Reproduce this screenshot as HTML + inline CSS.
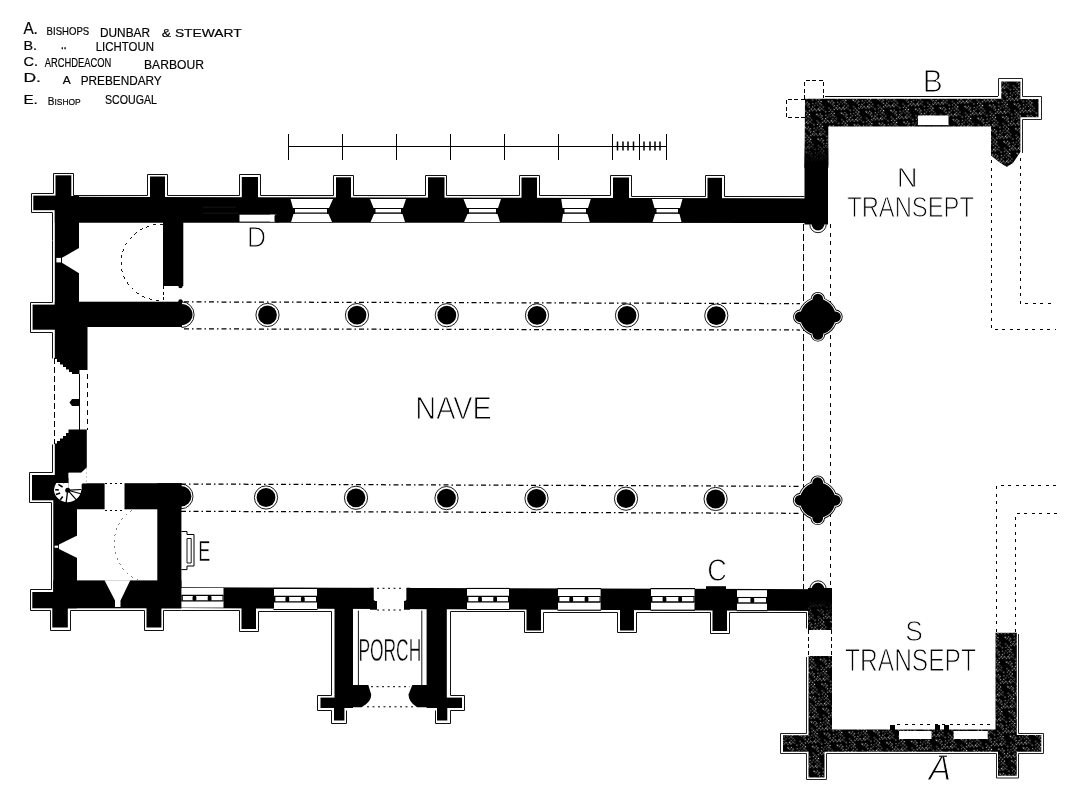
<!DOCTYPE html>
<html><head><meta charset="utf-8"><title>Plan of Cathedral</title>
<style>
html,body{margin:0;padding:0;background:#fff;}
svg{display:block;filter:grayscale(1);}
text{font-family:"Liberation Sans",sans-serif;}
</style></head>
<body>
<svg width="1079" height="785" viewBox="0 0 1079 785">
<defs>
<pattern id="hatch" width="17.5" height="17.5" patternUnits="userSpaceOnUse" patternTransform="rotate(42)">
<rect width="17.5" height="17.5" fill="#000"/>
<rect x="0.28" y="0.48" width="1.2" height="1.2" fill="#fff" fill-opacity="0.6"/>
<rect x="0.36" y="2.95" width="1.2" height="1.2" fill="#fff" fill-opacity="0.6"/>
<rect x="0.10" y="5.45" width="1.0" height="1.0" fill="#fff" fill-opacity="1.0"/>
<rect x="0.53" y="10.38" width="1.2" height="1.2" fill="#fff" fill-opacity="1.0"/>
<rect x="2.65" y="2.67" width="0.9" height="0.9" fill="#fff" fill-opacity="0.6"/>
<rect x="2.81" y="7.87" width="1.0" height="1.0" fill="#fff" fill-opacity="0.8"/>
<rect x="2.78" y="10.19" width="0.9" height="0.9" fill="#fff" fill-opacity="1.0"/>
<rect x="5.31" y="2.56" width="1.0" height="1.0" fill="#fff" fill-opacity="1.0"/>
<rect x="5.24" y="8.03" width="1.1" height="1.1" fill="#fff" fill-opacity="1.0"/>
<rect x="5.51" y="10.08" width="1.0" height="1.0" fill="#fff" fill-opacity="0.8"/>
<rect x="5.33" y="15.15" width="0.9" height="0.9" fill="#fff" fill-opacity="1.0"/>
<rect x="7.71" y="0.06" width="0.9" height="0.9" fill="#fff" fill-opacity="0.8"/>
<rect x="7.90" y="5.06" width="1.0" height="1.0" fill="#fff" fill-opacity="0.8"/>
<rect x="7.77" y="10.15" width="1.0" height="1.0" fill="#fff" fill-opacity="1.0"/>
<rect x="7.61" y="15.26" width="1.2" height="1.2" fill="#fff" fill-opacity="0.6"/>
<rect x="10.55" y="0.06" width="1.1" height="1.1" fill="#fff" fill-opacity="0.6"/>
<rect x="10.07" y="2.62" width="0.9" height="0.9" fill="#fff" fill-opacity="0.8"/>
<rect x="10.47" y="5.24" width="1.1" height="1.1" fill="#fff" fill-opacity="0.6"/>
<rect x="10.06" y="7.73" width="1.0" height="1.0" fill="#fff" fill-opacity="1.0"/>
<rect x="10.47" y="10.12" width="1.2" height="1.2" fill="#fff" fill-opacity="0.8"/>
<rect x="10.21" y="12.66" width="1.0" height="1.0" fill="#fff" fill-opacity="1.0"/>
<rect x="10.13" y="15.36" width="1.0" height="1.0" fill="#fff" fill-opacity="1.0"/>
<rect x="12.99" y="0.35" width="1.2" height="1.2" fill="#fff" fill-opacity="0.8"/>
<rect x="12.57" y="3.03" width="0.9" height="0.9" fill="#fff" fill-opacity="0.6"/>
<rect x="12.96" y="7.85" width="1.2" height="1.2" fill="#fff" fill-opacity="0.8"/>
<rect x="12.61" y="10.29" width="0.9" height="0.9" fill="#fff" fill-opacity="1.0"/>
<rect x="12.66" y="15.51" width="1.1" height="1.1" fill="#fff" fill-opacity="1.0"/>
<rect x="15.26" y="0.17" width="1.1" height="1.1" fill="#fff" fill-opacity="0.6"/>
<rect x="15.32" y="3.04" width="1.1" height="1.1" fill="#fff" fill-opacity="0.6"/>
<rect x="15.54" y="5.38" width="1.2" height="1.2" fill="#fff" fill-opacity="1.0"/>
<rect x="15.34" y="8.01" width="1.0" height="1.0" fill="#fff" fill-opacity="0.8"/>
</pattern>
<linearGradient id="fadeN" x1="0" y1="0" x2="0" y2="1"><stop offset="0" stop-color="#000" stop-opacity="0"/><stop offset="0.8" stop-color="#000" stop-opacity="1"/></linearGradient>
<linearGradient id="fadeS" x1="0" y1="1" x2="0" y2="0"><stop offset="0" stop-color="#000" stop-opacity="0"/><stop offset="0.6" stop-color="#000" stop-opacity="1"/></linearGradient>
</defs>
<rect width="1079" height="785" fill="#fff"/>
<g id="guides" shape-rendering="crispEdges">
<line x1="184" y1="301.9" x2="800" y2="303.6" stroke="#000" stroke-width="1.25" stroke-dasharray="5 3 1.5 3" shape-rendering="auto"/>
<line x1="184" y1="328.9" x2="800" y2="330" stroke="#000" stroke-width="1.25" stroke-dasharray="5 3 1.5 3" shape-rendering="auto"/>
<line x1="181" y1="484" x2="800" y2="486.3" stroke="#000" stroke-width="1.25" stroke-dasharray="5 3 1.5 3" shape-rendering="auto"/>
<line x1="181" y1="511.3" x2="800" y2="513.3" stroke="#000" stroke-width="1.25" stroke-dasharray="5 3 1.5 3" shape-rendering="auto"/>
<line x1="104.6" y1="483.4" x2="124.5" y2="483.4" stroke="#000" stroke-width="1.0" stroke-dasharray="2 3" />
<line x1="104.6" y1="510.2" x2="124.5" y2="510.2" stroke="#000" stroke-width="1.0" stroke-dasharray="2 3" />
<line x1="803.5" y1="224" x2="803.5" y2="589" stroke="#000" stroke-width="1.0" stroke-dasharray="7 3" />
<line x1="830.5" y1="224" x2="830.5" y2="589" stroke="#000" stroke-width="1.0" stroke-dasharray="4 4.5" />
<line x1="808" y1="630" x2="808" y2="656" stroke="#000" stroke-width="1.0" stroke-dasharray="4 3" />
<line x1="831.5" y1="630" x2="831.5" y2="656" stroke="#000" stroke-width="1.0" stroke-dasharray="4 3" />
<path d="M991.5 160 V329.5 H1056" fill="none" stroke="#000" stroke-width="1.0" stroke-dasharray="3 4.5" />
<path d="M1020.5 158 V303.5 H1053" fill="none" stroke="#000" stroke-width="1.0" stroke-dasharray="3 4.5" />
<path d="M1056 485.5 H996.5 V632" fill="none" stroke="#000" stroke-width="1.0" stroke-dasharray="3 4.5" />
<path d="M1057 513 H1015.5 V632" fill="none" stroke="#000" stroke-width="1.0" stroke-dasharray="3 4.5" />
<path d="M804.5 99 V80.5 H823.5 V98 M804.5 99 H786 V117.5 H804.5" fill="none" stroke="#000" stroke-width="1.0" stroke-dasharray="4 2.5" />
<line x1="825" y1="96.5" x2="998" y2="96.5" stroke="#000" stroke-width="1" />
<line x1="288" y1="146" x2="666" y2="146" stroke="#000" stroke-width="1.0" />
<line x1="288" y1="134" x2="288" y2="159.5" stroke="#000" stroke-width="1.0" />
<line x1="342" y1="134" x2="342" y2="159.5" stroke="#000" stroke-width="1.0" />
<line x1="396" y1="134" x2="396" y2="159.5" stroke="#000" stroke-width="1.0" />
<line x1="450" y1="134" x2="450" y2="159.5" stroke="#000" stroke-width="1.0" />
<line x1="504" y1="134" x2="504" y2="159.5" stroke="#000" stroke-width="1.0" />
<line x1="558" y1="134" x2="558" y2="159.5" stroke="#000" stroke-width="1.0" />
<line x1="612" y1="134" x2="612" y2="159.5" stroke="#000" stroke-width="1.0" />
<line x1="639" y1="134" x2="639" y2="159.5" stroke="#000" stroke-width="1.0" />
<line x1="666" y1="134" x2="666" y2="159.5" stroke="#000" stroke-width="1.0" />
<line x1="617.5" y1="141.5" x2="617.5" y2="150.5" stroke="#000" stroke-width="1.5" shape-rendering="auto"/>
<line x1="623" y1="141.5" x2="623" y2="150.5" stroke="#000" stroke-width="1.5" shape-rendering="auto"/>
<line x1="628" y1="141.5" x2="628" y2="150.5" stroke="#000" stroke-width="1.5" shape-rendering="auto"/>
<line x1="633.5" y1="141.5" x2="633.5" y2="150.5" stroke="#000" stroke-width="1.5" shape-rendering="auto"/>
<line x1="644" y1="141.5" x2="644" y2="150.5" stroke="#000" stroke-width="1.5" shape-rendering="auto"/>
<line x1="650" y1="141.5" x2="650" y2="150.5" stroke="#000" stroke-width="1.5" shape-rendering="auto"/>
<line x1="655" y1="141.5" x2="655" y2="150.5" stroke="#000" stroke-width="1.5" shape-rendering="auto"/>
<line x1="660" y1="141.5" x2="660" y2="150.5" stroke="#000" stroke-width="1.5" shape-rendering="auto"/>
<path d="M163 224 A42 38.5 0 0 0 163 301" fill="none" stroke="#000" stroke-width="0.9" stroke-dasharray="3 4" />
<line x1="163" y1="286" x2="163" y2="301" stroke="#000" stroke-width="1.0" stroke-dasharray="3 2.5" />
<path d="M132 510 A40 40 0 0 0 138 580" fill="none" stroke="#666" stroke-width="0.8" stroke-dasharray="2 4" />
<line x1="54.4" y1="358" x2="54.4" y2="444" stroke="#000" stroke-width="1.0" stroke-dasharray="6 3" />
<line x1="87" y1="374" x2="87" y2="430" stroke="#000" stroke-width="1.0" stroke-dasharray="5 4" />
<line x1="79.3" y1="374" x2="79.3" y2="430" stroke="#000" stroke-width="1.0" />
<line x1="86.6" y1="468" x2="86.6" y2="483" stroke="#000" stroke-width="1.0" stroke-dasharray="2 2" />
</g>
<g id="walls" fill="#000">
<polygon points="54.8,196.8 828,198.5 828,222.9 54.8,222.7" fill="#000" />
<rect x="33.3" y="195.6" width="22.7" height="14.6" fill="#000" />
<rect x="55.5" y="175.3" width="15.8" height="24.7" fill="#000" />
<rect x="150" y="176.5" width="15" height="23.5" fill="#000" />
<rect x="241.8" y="177" width="16.2" height="23" fill="#000" />
<rect x="336" y="177.3" width="15" height="22.7" fill="#000" />
<rect x="428" y="177.3" width="16.5" height="22.7" fill="#000" />
<rect x="521.5" y="177.5" width="15.5" height="22.5" fill="#000" />
<rect x="613" y="177.5" width="16" height="22.5" fill="#000" />
<rect x="707.5" y="177.8" width="14.5" height="22.2" fill="#000" />
<rect x="54.8" y="196" width="24.2" height="134" fill="#000" />
<rect x="163" y="222" width="20.3" height="64" fill="#000" />
<circle cx="180.5" cy="286" r="2.2" fill="#000" stroke="none" stroke-width="1"/>
<circle cx="180.5" cy="301.5" r="2.2" fill="#000" stroke="none" stroke-width="1"/>
<rect x="54.8" y="301.7" width="127.2" height="25.3" fill="#000" />
<rect x="32.6" y="304.6" width="23.4" height="25.1" fill="#000" />
<polygon points="54.8,327 87.5,327 87.5,370 79.5,370 79.5,374 72,374 72,372 69,372 69,369.5 66,369.5 66,367 63,367 63,364.5 60,364.5 60,362 57,362 57,359 54.8,359" fill="#000" />
<polygon points="69.5,402.5 72,399 79.5,399 79.5,406 72,406" fill="#000" />
<polygon points="54.8,443.5 57,443.5 57,441 60,441 60,438.5 63,438.5 63,436 66,436 66,433 68.5,433 68.5,429.5 86.8,429.5 86.8,467.4 81.4,472.8 68.6,472.8 68.6,483 54.8,483" fill="#000" />
<rect x="53.3" y="478" width="23.7" height="130.3" fill="#000" />
<rect x="32" y="475" width="24" height="25.3" fill="#000" />
<path d="M81.4 485 Q81.4 483.2 83.2 483.2 H104.6 V509.3 H70 V490 H81.4 Z" fill="#000" stroke="none" stroke-width="1" />
<rect x="124.5" y="483.2" width="56.9" height="26.1" fill="#000" />
<rect x="157.3" y="483.2" width="24.1" height="125.1" fill="#000" />
<rect x="53.3" y="580.4" width="128.1" height="27.9" fill="#000" />
<rect x="32.3" y="592" width="23.7" height="16.3" fill="#000" />
<rect x="52.3" y="600" width="15.5" height="27.5" fill="#000" />
<rect x="146.5" y="600" width="14.9" height="27.5" fill="#000" />
<polygon points="181,587.3 832,589.3 832,611 181,608.1" fill="#000" />
<rect x="241.5" y="600" width="14.5" height="29" fill="#000" />
<rect x="526.5" y="600" width="14.5" height="30.5" fill="#000" />
<rect x="620" y="600" width="14" height="30.5" fill="#000" />
<rect x="712.5" y="600" width="14.5" height="31" fill="#000" />
<rect x="334.5" y="600" width="18.5" height="108" fill="#000" />
<rect x="426.6" y="600" width="20.2" height="108" fill="#000" />
<path d="M352 685 H368.3 L371.2 694.5 Q371.5 702 361.6 707.2 H352 Z" fill="#000" stroke="none" stroke-width="1" />
<path d="M428 685 H412.3 L408.5 694.5 Q408.5 702 417 707.2 H428 Z" fill="#000" stroke="none" stroke-width="1" />
<rect x="320.5" y="697.6" width="14.5" height="10.4" fill="#000" />
<rect x="334" y="700" width="10.4" height="20.5" fill="#000" />
<rect x="446" y="697.6" width="16" height="10.4" fill="#000" />
<rect x="437" y="700" width="10.3" height="20.5" fill="#000" />
<rect x="804.5" y="165" width="23.5" height="59.5" fill="#000" />
</g>
<line x1="203" y1="207.2" x2="236" y2="207.2" stroke="#222" stroke-width="0.6" />
<line x1="203" y1="213.2" x2="238" y2="213.2" stroke="#222" stroke-width="0.6" />
<path d="M181.5 301.8 A12.6 12.9 0 0 1 181.5 327.6" fill="none" stroke="#000" stroke-width="0.9" />
<path d="M181.5 304 A11 10.6 0 0 1 181.5 325.2 Z" fill="#000" stroke="none" stroke-width="1" />
<path d="M181 484 A12 12.4 0 0 1 181 508.8" fill="none" stroke="#000" stroke-width="0.9" />
<path d="M181 486 A10.4 10.3 0 0 1 181 506.6 Z" fill="#000" stroke="none" stroke-width="1" />
<g id="openings">
<polygon points="62,257.8 78.6,248.3 79.2,248.3 79.2,273 78.6,273 62,262.7" fill="#fff" />
<rect x="56.4" y="257.9" width="4.6" height="4.5" fill="#fff" />
<polygon points="59,544.5 77.2,535.5 77.2,558 59,549" fill="#fff" />
<rect x="54.6" y="545.6" width="3.6" height="2.2" fill="#fff" />
<polygon points="104.5,580.2 130.3,580.2 120.5,600.5 120.5,607 115,607 115,600.5" fill="#fff" />
<path d="M53.9 490.2 A13.8 13.8 0 0 0 81.3 490.2 V488.5 H68.6 V483 H56.3 A13.8 13.8 0 0 0 53.9 490.2 Z" fill="#fff" stroke="none" stroke-width="1" />
<rect x="68.6" y="472.8" width="12.8" height="16.2" fill="#fff" />
<polygon points="81.3,472.8 86.8,467.4 86.8,483.2 81.3,483.2" fill="#fff" />
<line x1="69.7" y1="490.1" x2="81.28" y2="489.49" stroke="#000" stroke-width="1.1" />
<line x1="69.63" y1="490.72" x2="80.84" y2="493.72" stroke="#000" stroke-width="1.1" />
<line x1="69.04" y1="491.69" x2="76.8" y2="500.31" stroke="#000" stroke-width="1.2" />
<line x1="67.46" y1="492.19" x2="66.04" y2="503.7" stroke="#000" stroke-width="1.3" />
<line x1="62.77" y1="496.5" x2="60.31" y2="499.66" stroke="#000" stroke-width="1.6" />
<line x1="60.18" y1="492.94" x2="55.95" y2="494.48" stroke="#000" stroke-width="1.6" />
<line x1="58.71" y1="489.89" x2="55.21" y2="489.76" stroke="#000" stroke-width="1.6" />
<line x1="62.61" y1="487.02" x2="58.37" y2="484.37" stroke="#000" stroke-width="1.6" />
<line x1="63.94" y1="483.14" x2="62.07" y2="479.6" stroke="#000" stroke-width="1.4" />
<circle cx="67.7" cy="490.2" r="2.5" fill="#000" stroke="none" stroke-width="1"/>
<rect x="239.5" y="214.7" width="37" height="6.9" fill="#fff" />
<circle cx="277.5" cy="218.5" r="4" fill="#000" stroke="none" stroke-width="1"/>
<rect x="270" y="214.7" width="4.5" height="6.9" fill="#fff" />
<polygon points="290.5,199 333,199 329,208 327,208.3 327,213.9 328.5,214 332,222 291.1,222 293.5,214 295,213.9 295,208.3 293,208" fill="#fff" />
<line x1="293" y1="208.5" x2="329" y2="208.5" stroke="#000" stroke-width="1.0" />
<line x1="294" y1="213.1" x2="328" y2="213.1" stroke="#000" stroke-width="1.4" />
<line x1="288.5" y1="196.3" x2="335" y2="196.3" stroke="#000" stroke-width="0.1" />
<polygon points="370,199 406,199 403,208 401,208.3 401,213.9 402.5,214 405,222 370.6,222 374,214 375.5,213.9 375.5,208.3 373.5,208" fill="#fff" />
<line x1="373.5" y1="208.5" x2="403" y2="208.5" stroke="#000" stroke-width="1.0" />
<line x1="374.5" y1="213.1" x2="402" y2="213.1" stroke="#000" stroke-width="1.4" />
<line x1="368" y1="196.3" x2="408" y2="196.3" stroke="#000" stroke-width="0.1" />
<polygon points="463.5,199 501,199 498,208 496,208.3 496,213.9 497.5,214 500,222 464.1,222 467.5,214 469,213.9 469,208.3 467,208" fill="#fff" />
<line x1="467" y1="208.5" x2="498" y2="208.5" stroke="#000" stroke-width="1.0" />
<line x1="468" y1="213.1" x2="497" y2="213.1" stroke="#000" stroke-width="1.4" />
<line x1="461.5" y1="196.3" x2="503" y2="196.3" stroke="#000" stroke-width="0.1" />
<polygon points="561.2,199 590.8,199 588,208 586,208.3 586,213.9 587.5,214 589.8,222 561.8,222 563,214 564.5,213.9 564.5,208.3 562.5,208" fill="#fff" />
<line x1="562.5" y1="208.5" x2="588" y2="208.5" stroke="#000" stroke-width="1.0" />
<line x1="563.5" y1="213.1" x2="587" y2="213.1" stroke="#000" stroke-width="1.4" />
<line x1="559.2" y1="196.3" x2="592.8" y2="196.3" stroke="#000" stroke-width="0.1" />
<polygon points="652,199 682.5,199 680,208 678,208.3 678,213.9 679.5,214 681.5,222 652.6,222 655,214 656.5,213.9 656.5,208.3 654.5,208" fill="#fff" />
<line x1="654.5" y1="208.5" x2="680" y2="208.5" stroke="#000" stroke-width="1.0" />
<line x1="655.5" y1="213.1" x2="679" y2="213.1" stroke="#000" stroke-width="1.4" />
<line x1="650" y1="196.3" x2="684.5" y2="196.3" stroke="#000" stroke-width="0.1" />
<rect x="181.4" y="588" width="42.1" height="19.6" fill="#fff" />
<line x1="181.4" y1="595.4" x2="223.5" y2="595.4" stroke="#000" stroke-width="1.1" />
<line x1="181.4" y1="600.9" x2="223.5" y2="600.9" stroke="#000" stroke-width="1.4" />
<rect x="181.4" y="595.4" width="1.4" height="5.5" fill="#000" />
<rect x="222.5" y="595.4" width="1" height="5.5" fill="#000" />
<rect x="192.55" y="595.4" width="3.8" height="5.5" fill="#000" rx="1.5"/>
<rect x="207.71" y="595.4" width="3.8" height="5.5" fill="#000" rx="1.5"/>
<rect x="274" y="589" width="43" height="20" fill="#fff" />
<line x1="274" y1="596.4" x2="317" y2="596.4" stroke="#000" stroke-width="1.1" />
<line x1="274" y1="601.9" x2="317" y2="601.9" stroke="#000" stroke-width="1.4" />
<rect x="274" y="596.4" width="1.4" height="5.5" fill="#000" />
<rect x="316" y="596.4" width="1" height="5.5" fill="#000" />
<rect x="273.5" y="587.9" width="44" height="1.1" fill="#000" />
<rect x="273.5" y="609" width="44" height="1" fill="#000" />
<rect x="285.43" y="596.4" width="3.8" height="5.5" fill="#000" rx="1.5"/>
<rect x="300.91" y="596.4" width="3.8" height="5.5" fill="#000" rx="1.5"/>
<rect x="467" y="589" width="42" height="20" fill="#fff" />
<line x1="467" y1="596.4" x2="509" y2="596.4" stroke="#000" stroke-width="1.1" />
<line x1="467" y1="601.9" x2="509" y2="601.9" stroke="#000" stroke-width="1.4" />
<rect x="467" y="596.4" width="1.4" height="5.5" fill="#000" />
<rect x="508" y="596.4" width="1" height="5.5" fill="#000" />
<rect x="466.5" y="587.9" width="43" height="1.1" fill="#000" />
<rect x="466.5" y="609" width="43" height="1" fill="#000" />
<rect x="478.12" y="596.4" width="3.8" height="5.5" fill="#000" rx="1.5"/>
<rect x="493.24" y="596.4" width="3.8" height="5.5" fill="#000" rx="1.5"/>
<rect x="558" y="589.1" width="42.6" height="20.7" fill="#fff" />
<line x1="558" y1="596.5" x2="600.6" y2="596.5" stroke="#000" stroke-width="1.1" />
<line x1="558" y1="602" x2="600.6" y2="602" stroke="#000" stroke-width="1.4" />
<rect x="558" y="596.5" width="1.4" height="5.5" fill="#000" />
<rect x="599.6" y="596.5" width="1" height="5.5" fill="#000" />
<rect x="557.5" y="588" width="43.6" height="1.1" fill="#000" />
<rect x="557.5" y="609.8" width="43.6" height="1" fill="#000" />
<rect x="569.31" y="596.5" width="3.8" height="5.5" fill="#000" rx="1.5"/>
<rect x="584.64" y="596.5" width="3.8" height="5.5" fill="#000" rx="1.5"/>
<rect x="651" y="589.1" width="43.5" height="20.7" fill="#fff" />
<line x1="651" y1="596.5" x2="694.5" y2="596.5" stroke="#000" stroke-width="1.1" />
<line x1="651" y1="602" x2="694.5" y2="602" stroke="#000" stroke-width="1.4" />
<rect x="651" y="596.5" width="1.4" height="5.5" fill="#000" />
<rect x="693.5" y="596.5" width="1" height="5.5" fill="#000" />
<rect x="650.5" y="588" width="44.5" height="1.1" fill="#000" />
<rect x="650.5" y="609.8" width="44.5" height="1" fill="#000" />
<rect x="662.59" y="596.5" width="3.8" height="5.5" fill="#000" rx="1.5"/>
<rect x="678.25" y="596.5" width="3.8" height="5.5" fill="#000" rx="1.5"/>
<rect x="737" y="590.1" width="30" height="20.1" fill="#fff" />
<line x1="737" y1="597.5" x2="767" y2="597.5" stroke="#000" stroke-width="1.1" />
<line x1="737" y1="603" x2="767" y2="603" stroke="#000" stroke-width="1.4" />
<rect x="737" y="597.5" width="1.4" height="5.5" fill="#000" />
<rect x="766" y="597.5" width="1" height="5.5" fill="#000" />
<rect x="736.5" y="589" width="31" height="1.1" fill="#000" />
<rect x="736.5" y="610.2" width="31" height="1" fill="#000" />
<rect x="750.4" y="597.5" width="3.8" height="5.5" fill="#000" rx="1.5"/>
<rect x="373.5" y="586" width="33.1" height="26" fill="#fff" />
<path d="M370 587.8 H373.5 V599 Q373.5 601 377 601 V609.8 H370 Z" fill="#000" stroke="none" stroke-width="1" />
<path d="M410 587.8 H406.6 V599 Q406.6 601 404 601 V609.8 H410 Z" fill="#000" stroke="none" stroke-width="1" />
<line x1="377" y1="588.3" x2="404" y2="588.3" stroke="#000" stroke-width="1.0" stroke-dasharray="2 3.5" />
<line x1="377" y1="610" x2="404" y2="610" stroke="#000" stroke-width="1.0" stroke-dasharray="2 3.5" />
<line x1="358.4" y1="610.6" x2="358.4" y2="685" stroke="#000" stroke-width="0.9" />
<line x1="421.8" y1="610.6" x2="421.8" y2="685" stroke="#000" stroke-width="0.9" />
<line x1="371" y1="686.7" x2="410" y2="686.7" stroke="#000" stroke-width="1.0" stroke-dasharray="2 3.5" />
<line x1="367" y1="706.8" x2="414" y2="706.8" stroke="#000" stroke-width="1.0" stroke-dasharray="2 3.5" />
</g>
<path d="M181.4 531.5 H187 V534.5 H194 V566 H187 V569.6 H181.4" fill="none" stroke="#000" stroke-width="1" />
<path d="M187 538.5 H191.2 V563 H187 Z" fill="none" stroke="#000" stroke-width="0.9" />
<rect x="706" y="586.2" width="20" height="2.8" fill="#000" />
<circle cx="267.5" cy="315" r="11.6" fill="#fff" stroke="#000" stroke-width="0.9"/>
<circle cx="267.5" cy="315" r="9.4" fill="#000" stroke="none" stroke-width="1"/>
<circle cx="357" cy="315.11" r="11.6" fill="#fff" stroke="#000" stroke-width="0.9"/>
<circle cx="357" cy="315.11" r="9.4" fill="#000" stroke="none" stroke-width="1"/>
<circle cx="446.8" cy="315.22" r="11.6" fill="#fff" stroke="#000" stroke-width="0.9"/>
<circle cx="446.8" cy="315.22" r="9.4" fill="#000" stroke="none" stroke-width="1"/>
<circle cx="537" cy="315.33" r="11.6" fill="#fff" stroke="#000" stroke-width="0.9"/>
<circle cx="537" cy="315.33" r="9.4" fill="#000" stroke="none" stroke-width="1"/>
<circle cx="627" cy="315.43" r="11.6" fill="#fff" stroke="#000" stroke-width="0.9"/>
<circle cx="627" cy="315.43" r="9.4" fill="#000" stroke="none" stroke-width="1"/>
<circle cx="716.3" cy="315.54" r="11.6" fill="#fff" stroke="#000" stroke-width="0.9"/>
<circle cx="716.3" cy="315.54" r="9.4" fill="#000" stroke="none" stroke-width="1"/>
<circle cx="266" cy="497.5" r="11.6" fill="#fff" stroke="#000" stroke-width="0.9"/>
<circle cx="266" cy="497.5" r="9.4" fill="#000" stroke="none" stroke-width="1"/>
<circle cx="356" cy="497.8" r="11.6" fill="#fff" stroke="#000" stroke-width="0.9"/>
<circle cx="356" cy="497.8" r="9.4" fill="#000" stroke="none" stroke-width="1"/>
<circle cx="446.5" cy="498.1" r="11.6" fill="#fff" stroke="#000" stroke-width="0.9"/>
<circle cx="446.5" cy="498.1" r="9.4" fill="#000" stroke="none" stroke-width="1"/>
<circle cx="536.5" cy="498.39" r="11.6" fill="#fff" stroke="#000" stroke-width="0.9"/>
<circle cx="536.5" cy="498.39" r="9.4" fill="#000" stroke="none" stroke-width="1"/>
<circle cx="626" cy="498.69" r="11.6" fill="#fff" stroke="#000" stroke-width="0.9"/>
<circle cx="626" cy="498.69" r="9.4" fill="#000" stroke="none" stroke-width="1"/>
<circle cx="715.6" cy="498.98" r="11.6" fill="#fff" stroke="#000" stroke-width="0.9"/>
<circle cx="715.6" cy="498.98" r="9.4" fill="#000" stroke="none" stroke-width="1"/>
<circle cx="817.9" cy="316.8" r="17.8" fill="#000" stroke="#000" stroke-width="3.6"/>
<circle cx="817.9" cy="299.2" r="5.4" fill="#000" stroke="#000" stroke-width="3.6"/>
<circle cx="835.5" cy="316.8" r="5.4" fill="#000" stroke="#000" stroke-width="3.6"/>
<circle cx="817.9" cy="334.4" r="5.4" fill="#000" stroke="#000" stroke-width="3.6"/>
<circle cx="800.3" cy="316.8" r="5.4" fill="#000" stroke="#000" stroke-width="3.6"/>
<circle cx="817.9" cy="316.8" r="17.8" fill="#fff" stroke="#fff" stroke-width="1.9"/>
<circle cx="817.9" cy="299.2" r="5.4" fill="#fff" stroke="#fff" stroke-width="1.9"/>
<circle cx="835.5" cy="316.8" r="5.4" fill="#fff" stroke="#fff" stroke-width="1.9"/>
<circle cx="817.9" cy="334.4" r="5.4" fill="#fff" stroke="#fff" stroke-width="1.9"/>
<circle cx="800.3" cy="316.8" r="5.4" fill="#fff" stroke="#fff" stroke-width="1.9"/>
<circle cx="817.9" cy="316.8" r="17.8" fill="#000"/>
<circle cx="817.9" cy="299.2" r="5.4" fill="#000"/>
<circle cx="835.5" cy="316.8" r="5.4" fill="#000"/>
<circle cx="817.9" cy="334.4" r="5.4" fill="#000"/>
<circle cx="800.3" cy="316.8" r="5.4" fill="#000"/>
<circle cx="817.7" cy="500.3" r="17.8" fill="#000" stroke="#000" stroke-width="3.6"/>
<circle cx="817.7" cy="482.7" r="5.4" fill="#000" stroke="#000" stroke-width="3.6"/>
<circle cx="835.3" cy="500.3" r="5.4" fill="#000" stroke="#000" stroke-width="3.6"/>
<circle cx="817.7" cy="517.9" r="5.4" fill="#000" stroke="#000" stroke-width="3.6"/>
<circle cx="800.1" cy="500.3" r="5.4" fill="#000" stroke="#000" stroke-width="3.6"/>
<circle cx="817.7" cy="500.3" r="17.8" fill="#fff" stroke="#fff" stroke-width="1.9"/>
<circle cx="817.7" cy="482.7" r="5.4" fill="#fff" stroke="#fff" stroke-width="1.9"/>
<circle cx="835.3" cy="500.3" r="5.4" fill="#fff" stroke="#fff" stroke-width="1.9"/>
<circle cx="817.7" cy="517.9" r="5.4" fill="#fff" stroke="#fff" stroke-width="1.9"/>
<circle cx="800.1" cy="500.3" r="5.4" fill="#fff" stroke="#fff" stroke-width="1.9"/>
<circle cx="817.7" cy="500.3" r="17.8" fill="#000"/>
<circle cx="817.7" cy="482.7" r="5.4" fill="#000"/>
<circle cx="835.3" cy="500.3" r="5.4" fill="#000"/>
<circle cx="817.7" cy="517.9" r="5.4" fill="#000"/>
<circle cx="800.1" cy="500.3" r="5.4" fill="#000"/>
<path d="M809.8 224.5 A8.2 8.2 0 0 0 826.2 224.5" fill="none" stroke="#000" stroke-width="0.9" />
<path d="M811.6 224 A6.4 6.4 0 0 0 824.4 224 Z" fill="#000" stroke="none" stroke-width="1" />
<path d="M809.8 589 A8.2 8.2 0 0 1 826.2 589" fill="none" stroke="#000" stroke-width="0.9" />
<path d="M811.6 589.2 A6.4 6.4 0 0 1 824.4 589.2 Z" fill="#000" stroke="none" stroke-width="1" />
<g id="hatched">
<polygon points="805,98.7 1001.3,98.7 1001.3,81.4 1020.4,81.4 1020.4,99 1038.5,99 1038.5,117.3 1020.4,117.3 1020.4,152 1013,163 1006.7,167 999,162 991,155.5 991,126.4 828.3,126.4 828.3,166 804.5,166" fill="url(#hatch)" />
<rect x="804.5" y="140" width="23.8" height="28" fill="url(#fadeN)"/>
<rect x="918" y="115.5" width="30.5" height="9.8" fill="#fff" />
<line x1="918" y1="125.7" x2="948.5" y2="125.7" stroke="#000" stroke-width="0.9" />
<path d="M998.5 96 V78.5 H1022.5 V96.5 H1041.5 V119.5 H1022.5 V153" fill="none" stroke="#222" stroke-width="1" />
<polygon points="808.5,656 832,656 832,729.5 995.5,729.5 995.5,632.8 1016.8,632.8 1016.8,735 1041.3,735 1041.3,751.8 1016.8,751.8 1016.8,775.8 998,775.8 998,751.8 824.5,751.8 824.5,777.5 808.5,777.5 808.5,751.8 783,751.8 783,735.3 808.5,735.3" fill="url(#hatch)" />
<rect x="808" y="588.7" width="24" height="41.3" fill="url(#hatch)" />
<rect x="808" y="588" width="24" height="30" fill="url(#fadeS)"/>
<rect x="899" y="731" width="32.5" height="8" fill="#fff" />
<rect x="953.7" y="731" width="34" height="8" fill="#fff" />
<rect x="890" y="725" width="5" height="5" fill="#000" />
<rect x="935" y="725" width="5" height="5" fill="#000" />
<rect x="944" y="725" width="5" height="5" fill="#000" />
<line x1="897" y1="724.5" x2="990" y2="724.5" stroke="#000" stroke-width="1" stroke-dasharray="3 4.5" shape-rendering="crispEdges"/>
<path d="M806.5 657 V733.5 H780.5 V753.5 H806.5 V779.5 H826.5 V753.5 H996.5 V778 H1018.5 V753.5 H1043.5 V733.5 H1018.5 V634" fill="none" stroke="#222" stroke-width="1" />
</g>
<path d="M52.5 240.5 V212.5 H31.5 V193.5 H53.5 V173.5 H73.5 V195.5 H147.5 V174.5 H167.5 V195.5 H239.5 V174.5 H260.5 V195.5 H333.5 V175.5 H353.5 V195.5 H425.5 V175.5 H446.5 V195.5 H519.5 V175.5 H539.5 V195.5 H610.5 V175.5 H631.5 V196.5 H705.5 V175.5 H724.5 V196.5 H804.5" fill="none" stroke="#111" stroke-width="1.0" />
<path d="M181.5 610.5 H239.5 V631.5 H258.5 V611.5 H331.5 V695.5 H317.5 V710.5 H331.5 V723.5 H346.5 V710.5" fill="none" stroke="#111" stroke-width="1.0" />
<path d="M435.5 710.5 V723.5 H450.5 V710.5 H464.5 V695.5 H450.5 V611.5 H524.5 V632.5 H543.5 V612.5 H617.5 V632.5 H636.5 V612.5 H710.5 V633.5 H729.5 V612.5 H806.5 V628.5" fill="none" stroke="#111" stroke-width="1.0" />
<path d="M52.5 472.5 H29.5 V502.5 H51.5 V589.5 H30.5 V610.5 H50.5 V630.5 H70.5 V610.5 H144.5 V630.5 H163.5 V610.5 H181.5" fill="none" stroke="#111" stroke-width="1.0" />
<path d="M52.5 332.5 V358.5" fill="none" stroke="#111" stroke-width="1.0" />
<path d="M52.5 444.5 V472.5" fill="none" stroke="#111" stroke-width="1.0" />
<path d="M52.5 302.5 H30.5 V332.5 H52.5" fill="none" stroke="#111" stroke-width="1.0" />
<path d="M52.5 240.5 V302.5" fill="none" stroke="#111" stroke-width="1.0" />
<g font-family="Liberation Sans, sans-serif" fill="#000" opacity="0.99">
<text x="415.3" y="418.6" font-size="31.64" text-anchor="start" textLength="76.5" lengthAdjust="spacingAndGlyphs" stroke="#fff" stroke-width="0.95" >NAVE</text>
<text x="896.75" y="186.6" font-size="28.42" text-anchor="start" textLength="20.95" lengthAdjust="spacingAndGlyphs" stroke="#fff" stroke-width="0.95" >N</text>
<text x="847.2" y="217.1" font-size="29.65" text-anchor="start" textLength="126.7" lengthAdjust="spacingAndGlyphs" stroke="#fff" stroke-width="0.95" >TRANSEPT</text>
<text x="905.2" y="641.0" font-size="29.49" text-anchor="start" textLength="17.6" lengthAdjust="spacingAndGlyphs" stroke="#fff" stroke-width="0.95" >S</text>
<text x="845.1" y="671.0" font-size="31.6" text-anchor="start" textLength="130.8" lengthAdjust="spacingAndGlyphs" stroke="#fff" stroke-width="0.95" >TRANSEPT</text>
<text x="358.4" y="660.6" font-size="31.6" text-anchor="start" textLength="62.8" lengthAdjust="spacingAndGlyphs" stroke="#fff" stroke-width="0.45" >PORCH</text>
<text x="922.8" y="92.0" font-size="31.27" text-anchor="start" textLength="20.0" lengthAdjust="spacingAndGlyphs" stroke="#fff" stroke-width="0.95" >B</text>
<text x="247.0" y="246.6" font-size="29.18" text-anchor="start" textLength="19.1" lengthAdjust="spacingAndGlyphs" stroke="#fff" stroke-width="0.95" >D</text>
<text x="198.2" y="561.0" font-size="29.52" text-anchor="start" textLength="12.2" lengthAdjust="spacingAndGlyphs" stroke="#fff" stroke-width="0.55" >E</text>
<text x="707.2" y="581.0" font-size="31.64" text-anchor="start" textLength="19.6" lengthAdjust="spacingAndGlyphs" stroke="#fff" stroke-width="0.95" >C</text>
<text x="928.8" y="779.8" font-size="34.3" text-anchor="start" textLength="22.3" lengthAdjust="spacingAndGlyphs" stroke="#fff" stroke-width="0.95" font-style="italic">A</text>
<line x1="939" y1="756.2" x2="947" y2="756.2" stroke="#000" stroke-width="1.1" />
<text x="23.4" y="34" font-size="16.5" text-anchor="start" textLength="14.5" lengthAdjust="spacingAndGlyphs" stroke="#000" stroke-width="0.2" >A.</text>
<text x="46.6" y="34.5" font-size="10.5" text-anchor="start" textLength="42.6" lengthAdjust="spacingAndGlyphs" stroke="#000" stroke-width="0.2" >BISHOPS</text>
<text x="100" y="36.6" font-size="12.3" text-anchor="start" textLength="50" lengthAdjust="spacingAndGlyphs" stroke="#000" stroke-width="0.2" >DUNBAR</text>
<text x="161.8" y="36.6" font-size="11.8" text-anchor="start" textLength="80" lengthAdjust="spacingAndGlyphs" stroke="#000" stroke-width="0.2" >&amp; STEWART</text>
<text x="23.4" y="50" font-size="12.5" text-anchor="start" textLength="13.6" lengthAdjust="spacingAndGlyphs" stroke="#000" stroke-width="0.2" >B.</text>
<text x="61" y="49.2" font-size="13" text-anchor="start" textLength="5.4" lengthAdjust="spacingAndGlyphs" stroke="#000" stroke-width="0.5" >..</text>
<text x="95.7" y="50.5" font-size="13" text-anchor="start" textLength="58.3" lengthAdjust="spacingAndGlyphs" stroke="#000" stroke-width="0.2" >LICHTOUN</text>
<text x="23.4" y="66.4" font-size="13" text-anchor="start" textLength="14.6" lengthAdjust="spacingAndGlyphs" stroke="#000" stroke-width="0.2" >C.</text>
<text x="44.8" y="66.8" font-size="12" text-anchor="start" textLength="66.5" lengthAdjust="spacingAndGlyphs" stroke="#000" stroke-width="0.2" >ARCHDEACON</text>
<text x="144" y="68.5" font-size="13.5" text-anchor="start" textLength="60" lengthAdjust="spacingAndGlyphs" stroke="#000" stroke-width="0.2" >BARBOUR</text>
<text x="23.4" y="82" font-size="13" text-anchor="start" textLength="17.5" lengthAdjust="spacingAndGlyphs" stroke="#000" stroke-width="0.2" >D.</text>
<text x="62.8" y="84" font-size="11.5" text-anchor="start" textLength="8" lengthAdjust="spacingAndGlyphs" stroke="#000" stroke-width="0.2" >A</text>
<text x="80.7" y="85.3" font-size="13.5" text-anchor="start" textLength="81" lengthAdjust="spacingAndGlyphs" stroke="#000" stroke-width="0.2" >PREBENDARY</text>
<text x="23.4" y="104" font-size="13.3" text-anchor="start" textLength="14.4" lengthAdjust="spacingAndGlyphs" stroke="#000" stroke-width="0.2" >E.</text>
<text x="47.8" y="104.5" font-size="11" text-anchor="start" textLength="32.9" lengthAdjust="spacingAndGlyphs" stroke="#000" stroke-width="0.2" >B<tspan font-size="9.3">ISHOP</tspan></text>
<text x="105" y="104" font-size="12.3" text-anchor="start" textLength="52" lengthAdjust="spacingAndGlyphs" stroke="#000" stroke-width="0.2" >SCOUGAL</text>
</g>
</svg>
</body></html>
